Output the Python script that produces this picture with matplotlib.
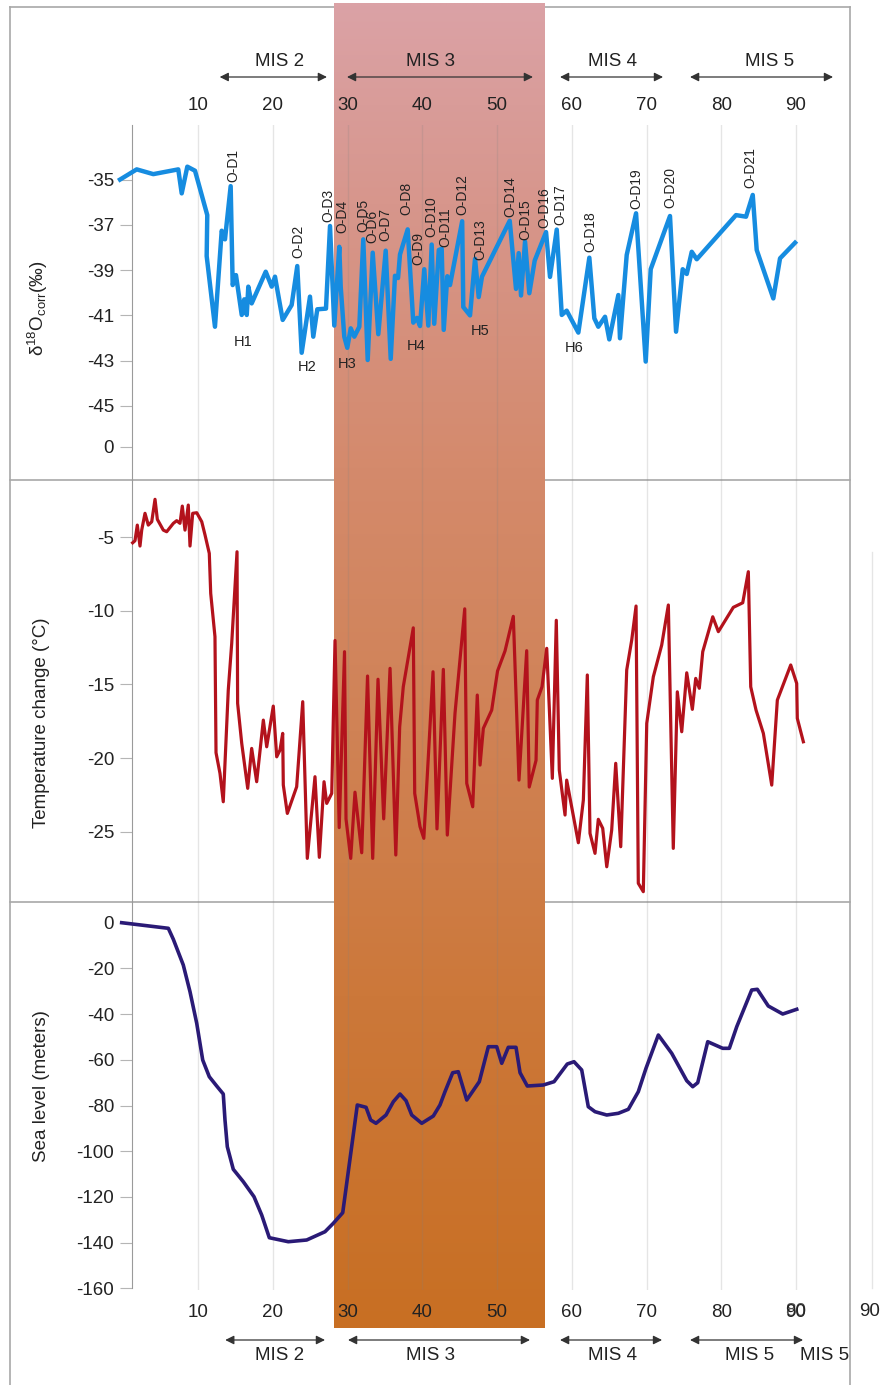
import matplotlib.pyplot as plt
import numpy as np

plt.rcParams["font.family"] = ["Liberation Sans", "DejaVu Sans"]
plt.rcParams["mathtext.fontset"] = "custom"
plt.rcParams["mathtext.rm"] = "Liberation Sans"
plt.rcParams["mathtext.it"] = "Liberation Sans:italic"
plt.rcParams["axes.unicode_minus"] = False

# --- Data (ka BP) ------------------------------------------------------------
d18o_age = [-0.43, 1.80, 4.02, 7.36, 7.82, 8.57, 9.60, 11.24, 11.16, 12.27, 13.17, 13.61,
            14.37, 14.64, 15.08, 15.85, 16.19, 16.52, 16.73, 17.18, 19.06, 19.86, 20.30,
            21.33, 22.53, 23.28, 23.87, 24.98, 25.42, 25.96, 27.12, 27.66, 28.23, 28.90,
            29.09, 29.57, 29.97, 30.43, 30.91, 31.58, 32.11, 32.70, 33.37, 34.12, 35.11,
            35.78, 36.35, 36.76, 37.02, 38.05, 38.80, 39.30, 39.70, 40.27, 40.81, 41.26,
            41.60, 42.21, 42.60, 42.87, 43.35, 43.71, 45.34, 45.49, 46.39, 47.06, 47.55,
            47.99, 51.70, 52.54, 52.90, 53.21, 53.75, 54.32, 55.04, 56.56, 57.09, 57.99,
            58.66, 59.32, 60.88, 62.35, 63.02, 63.55, 64.45, 65.02, 66.23, 66.45, 67.35,
            68.60, 69.89, 70.56, 73.14, 73.95, 74.84, 75.38, 76.05, 76.72, 81.97, 83.31,
            84.21, 84.74, 86.96, 87.86, 89.87]
d18o = [-35.00, -34.55, -34.76, -34.55, -35.61, -34.43, -34.61, -36.57, -38.38, -41.50,
        -37.26, -37.64, -35.29, -39.66, -39.22, -40.98, -40.29, -40.98, -39.73, -40.47,
        -39.07, -39.73, -39.29, -41.20, -40.54, -38.82, -42.65, -40.17, -41.94, -40.73,
        -40.70, -37.05, -41.45, -37.97, -39.73, -41.94, -42.43, -41.57, -41.94, -41.50,
        -37.64, -42.97, -38.23, -41.83, -38.14, -42.92, -39.25, -39.35, -38.31, -37.20,
        -41.32, -41.11, -41.47, -38.96, -41.45, -37.87, -41.37, -38.11, -38.06, -41.64,
        -39.27, -39.66, -36.84, -40.63, -41.00, -38.50, -40.19, -39.29, -36.82, -39.83,
        -38.25, -40.12, -37.74, -40.02, -38.58, -37.32, -39.30, -37.21, -40.98, -40.79,
        -41.76, -38.45, -41.13, -41.50, -41.06, -42.06, -40.10, -42.01, -38.33, -36.49,
        -43.04, -38.96, -36.61, -41.72, -38.96, -39.17, -38.19, -38.52, -36.57, -36.64,
        -35.68, -38.11, -40.25, -38.48, -37.79]

od_labels = [f"O-D{i}" for i in range(1, 22)]
od_age = [14.68, 23.42, 27.39, 29.26, 32.07, 33.34, 35.02, 37.92, 39.47, 41.26, 43.04,
          45.41, 47.73, 51.74, 53.75, 56.33, 58.43, 62.44, 68.69, 73.14, 83.85]
od_value = [-35.11, -38.48, -36.88, -37.36, -37.32, -37.80, -37.72, -36.57, -38.77, -37.53,
            -37.97, -36.57, -38.55, -36.64, -37.67, -37.15, -37.01, -38.19, -36.30, -36.27,
            -35.38]

heinrich_labels = ["H1", "H2", "H3", "H4", "H5", "H6"]
heinrich_age = [16.06, 24.54, 29.89, 39.16, 47.73, 60.30]
heinrich_value = [-42.16, -43.26, -43.15, -42.34, -41.69, -42.45]

temp_age = [1.26, 1.57, 1.88, 2.24, 2.47, 2.91, 3.35, 3.81, 4.25, 4.56, 5.36, 5.81, 6.70,
            7.15, 7.59, 7.90, 8.26, 8.70, 8.93, 9.29, 9.83, 10.50, 10.94, 11.51, 11.70,
            12.27, 12.41, 12.94, 13.38, 14.05, 14.51, 15.22, 15.30, 15.85, 16.65, 17.18,
            17.85, 18.74, 19.19, 20.07, 20.53, 20.97, 21.33, 21.41, 21.95, 23.20, 24.01,
            24.62, 25.65, 26.23, 26.86, 27.22, 27.89, 28.33, 28.89, 29.60, 29.80, 30.43,
            31.00, 31.90, 32.68, 33.37, 34.08, 34.84, 35.69, 36.46, 36.98, 37.46, 38.80,
            38.99, 39.70, 40.21, 41.44, 41.97, 42.82, 43.35, 44.38, 45.68, 45.95, 46.75,
            47.36, 47.73, 48.17, 49.29, 50.07, 51.07, 52.18, 52.94, 53.97, 54.31, 55.22,
            55.39, 56.02, 56.65, 57.40, 57.93, 58.33, 59.10, 59.32, 60.88, 61.55, 62.08,
            62.44, 63.11, 63.55, 64.14, 64.68, 65.34, 65.88, 66.55, 67.35, 68.02, 68.60,
            68.90, 69.57, 70.03, 70.91, 72.03, 72.92, 73.58, 74.12, 74.71, 75.38, 76.13,
            76.58, 77.06, 77.52, 78.86, 79.61, 81.61, 82.87, 83.62, 83.94, 84.65, 85.63,
            86.75, 87.50, 89.29, 90.09, 90.17, 90.98]
temp_change = [-5.39, -5.25, -4.19, -5.61, -4.53, -3.39, -4.19, -3.96, -2.44, -3.80, -4.53,
               -4.64, -4.07, -3.89, -4.07, -2.90, -4.53, -2.83, -5.61, -3.39, -3.35, -3.96,
               -4.86, -6.11, -8.82, -11.76, -19.63, -21.03, -22.96, -15.38, -12.21, -6.00,
               -16.28, -19.00, -22.05, -19.34, -21.60, -17.42, -19.23, -16.47, -19.91,
               -19.45, -18.32, -21.82, -23.75, -21.94, -16.17, -26.80, -21.26, -26.73,
               -21.60, -23.07, -22.39, -12.02, -24.71, -12.78, -24.13, -26.80, -22.31,
               -26.42, -14.43, -26.80, -14.65, -24.12, -13.91, -26.57, -17.87, -15.16,
               -11.16, -22.39, -24.65, -25.44, -14.14, -24.80, -13.98, -25.22, -16.96,
               -9.87, -21.71, -23.30, -15.72, -20.47, -17.98, -16.74, -14.09, -12.73,
               -10.38, -21.49, -12.71, -21.96, -20.15, -16.06, -15.16, -12.55, -21.37,
               -10.65, -20.81, -23.86, -21.49, -25.74, -22.84, -14.36, -25.10, -26.46,
               -24.15, -24.76, -27.37, -24.88, -20.35, -26.01, -14.02, -11.99, -9.68,
               -28.49, -29.06, -17.64, -14.48, -12.33, -9.61, -26.12, -15.50, -18.21,
               -14.21, -16.69, -14.59, -15.26, -12.78, -10.41, -11.42, -9.77, -9.46, -7.35,
               -15.16, -16.74, -18.32, -21.83, -16.06, -13.68, -14.93, -17.30, -18.89]

sea_age = [-0.21, 6.03, 6.70, 8.03, 8.93, 9.83, 10.63, 11.51, 12.50, 13.38, 13.61, 13.92,
           14.72, 16.06, 17.49, 18.52, 19.54, 22.08, 24.54, 26.99, 28.10, 29.36, 31.31,
           32.48, 33.10, 33.81, 35.15, 36.13, 37.02, 37.83, 38.59, 39.93, 41.48, 42.37,
           43.04, 44.07, 44.82, 45.95, 47.63, 48.84, 49.96, 50.63, 51.51, 52.54, 53.08,
           54.05, 56.19, 57.63, 59.40, 60.30, 61.33, 62.21, 63.11, 64.68, 66.23, 67.57,
           68.90, 69.93, 71.58, 73.37, 75.38, 76.18, 76.85, 78.19, 80.19, 81.08, 82.07,
           84.07, 84.82, 86.29, 88.22, 90.09]
sea_level = [0.0, -2.45, -7.27, -18.51, -30.20, -44.03, -60.09, -67.40, -71.47, -74.97,
             -86.35, -98.03, -107.92, -113.35, -119.91, -127.92, -137.86, -139.61, -138.86,
             -135.23, -131.55, -126.91, -79.78, -80.79, -86.35, -87.79, -84.16, -78.34,
             -74.97, -77.90, -84.16, -87.79, -84.60, -79.78, -73.96, -65.65, -65.21, -77.59,
             -69.58, -54.27, -54.27, -61.53, -54.53, -54.53, -65.65, -71.47, -71.03, -69.58,
             -61.84, -60.83, -64.46, -80.53, -82.71, -84.16, -83.41, -81.66, -73.96, -63.72,
             -49.15, -57.16, -69.15, -71.77, -70.02, -52.08, -54.97, -54.97, -45.51, -29.45,
             -29.15, -36.46, -39.96, -37.90]

age_ticks = [10, 20, 30, 40, 50, 60, 70, 80, 90]
d18o_ticks = [-35, -37, -39, -41, -43, -45, -46.81]
d18o_tick_labels = ["-35", "-37", "-39", "-41", "-43", "-45", "0"]
temp_ticks = [-5, -10, -15, -20, -25]
sea_ticks = [0, -20, -40, -60, -80, -100, -120, -140, -160]

mis3_band = (28.19, 56.29)
mis_names = ["MIS 2", "MIS 3", "MIS 4", "MIS 5"]
mis_top_start = [12.9, 29.93, 58.43, 75.82]
mis_top_end = [27.25, 54.81, 72.21, 94.95]
mis_top_mid = [20.97, 41.04, 65.39, 86.52]
mis_bot_start = [13.64, 30.07, 58.43, 75.82]
mis_bot_end = [26.99, 54.41, 72.08, 90.94]
mis_bot_mid = [20.97, 41.04, 65.39, 83.85]

# --- Layout ------------------------------------------------------------------
W, H = 882, 1385
X_LIM = (-3.11, 97.22)
LEFT, WIDTH = 100 / W, 750 / W
AXIS_X = 1.17
TXT = "#222222"


def fy(py):
    return 1 - py / H


fig = plt.figure(figsize=(W / 100, H / 100), dpi=100)

# background: frame, MIS 3 band, MIS arrows
bg = fig.add_axes([LEFT, 0, WIDTH, 1])
bg.set_xlim(X_LIM)
bg.set_ylim(0, 1)
bg.axis("off")

frame_kw = dict(color="#a8a8a8", lw=1.2, transform=fig.transFigure, clip_on=False, zorder=0)
bg.plot([10 / W, 10 / W], [0, fy(7)], **frame_kw)
bg.plot([850 / W, 850 / W], [0, fy(7)], **frame_kw)
bg.plot([10 / W, 850 / W], [fy(7), fy(7)], **frame_kw)
bg.plot([10 / W, 850 / W], [fy(480), fy(480)], **frame_kw)
bg.plot([10 / W, 850 / W], [fy(902), fy(902)], **frame_kw)

stops = np.array([0.0, 0.15, 0.35, 0.55, 0.75, 1.0])
cols = np.array([(219, 162, 166), (215, 150, 140), (212, 138, 108),
                 (208, 130, 85), (204, 120, 58), (200, 111, 35)]) / 255
t = np.linspace(0, 1, 256)
grad = np.stack([np.interp(t, stops, cols[:, k]) for k in range(3)], axis=-1)[:, None, :]
bg.imshow(grad, extent=(mis3_band[0], mis3_band[1], fy(1328), fy(3)),
          aspect="auto", interpolation="bilinear", zorder=1)

arrow_kw = dict(arrowstyle="<|-|>", color="#333333", lw=0.9, mutation_scale=13,
                shrinkA=0, shrinkB=0)
for name, s, e, m in zip(mis_names, mis_top_start, mis_top_end, mis_top_mid):
    bg.annotate("", xy=(e, fy(77)), xytext=(s, fy(77)), arrowprops=arrow_kw)
    bg.text(m, fy(62), name, ha="center", va="center", fontsize=13.5, color=TXT)
for name, s, e, m in zip(mis_names, mis_bot_start, mis_bot_end, mis_bot_mid):
    bg.annotate("", xy=(e, fy(1340)), xytext=(s, fy(1340)), arrowprops=arrow_kw)
    bg.text(m, fy(1355), name, ha="center", va="center", fontsize=13.5, color=TXT)
bg.text(93.88, fy(1355), "MIS 5", ha="center", va="center", fontsize=13.5, color=TXT,
        clip_on=False)
bg.text(99.9, fy(1311), "90", ha="center", va="center", fontsize=13.5, color=TXT,
        clip_on=False)
bg.plot([100.15, 100.15], [fy(1288), fy(552)], color="gray", alpha=0.2, lw=1,
        clip_on=False)

# --- Data panels -------------------------------------------------------------
ax1 = fig.add_axes([LEFT, fy(480), WIDTH, (480 - 125) / H])
ax2 = fig.add_axes([LEFT, fy(902), WIDTH, (902 - 480) / H])
ax3 = fig.add_axes([LEFT, fy(1290), WIDTH, (1290 - 902) / H])

for ax in (ax1, ax2, ax3):
    ax.set_facecolor("none")
    ax.set_xlim(X_LIM)
    for s in ("top", "right", "bottom"):
        ax.spines[s].set_visible(False)
    ax.spines["left"].set_position(("data", AXIS_X))
    ax.spines["left"].set_color("#9a9a9a")
    ax.tick_params(axis="y", direction="out", length=8.6, width=0.8, color="#b5b5b5",
                   pad=4.3, labelsize=13.5, labelcolor=TXT)
    ax.set_xticks(age_ticks)
    ax.tick_params(axis="x", length=0, labelsize=13.5, labelcolor=TXT)
    ax.grid(axis="x", color="gray", alpha=0.2, lw=1)

ax1.set_ylim(-48.27, -32.59)
ax1.set_yticks(d18o_ticks, d18o_tick_labels)
ax1.xaxis.tick_top()
ax1.tick_params(axis="x", pad=8, length=0)
ax1.plot(d18o_age, d18o, color="#168ce0", lw=3.2, zorder=3)
for lab, x, y in zip(od_labels, od_age, od_value):
    ax1.text(x, y, lab, rotation=90, ha="center", va="bottom", fontsize=10, color=TXT,
             clip_on=False)
for lab, x, y in zip(heinrich_labels, heinrich_age, heinrich_value):
    ax1.text(x, y, lab, ha="center", va="center", fontsize=10.5, color=TXT)
ax1.set_ylabel(r"δ$^{18}$O$_{\mathrm{corr}}$(‰)", fontsize=13.5, color=TXT)
ax1.yaxis.set_label_coords(-0.067, 0.485)

ax2.set_ylim(-29.76, -1.13)
ax2.set_yticks(temp_ticks)
ax2.tick_params(axis="x", labelbottom=False)
ax2.plot(temp_age, temp_change, color="#b3121c", lw=2.3, zorder=3)
ax2.set_ylabel("Temperature change (°C)", fontsize=13.5, color=TXT)
ax2.yaxis.set_label_coords(-0.067, 0.424)

ax3.set_ylim(-160.74, 9.06)
ax3.set_yticks(sea_ticks)
ax3.spines["left"].set_bounds(-160, 9.06)
ax3.tick_params(axis="x", pad=10)
ax3.plot(sea_age, sea_level, color="#2a1a76", lw=2.6, zorder=3)
ax3.text(90, -170.2, "80", ha="center", va="center", fontsize=13.5, color=TXT, alpha=0.8,
         clip_on=False)
ax3.set_ylabel("Sea level (meters)", fontsize=13.5, color=TXT)
ax3.yaxis.set_label_coords(-0.067, 0.526)

fig.savefig("out.png", dpi=100)
plt.close(fig)
